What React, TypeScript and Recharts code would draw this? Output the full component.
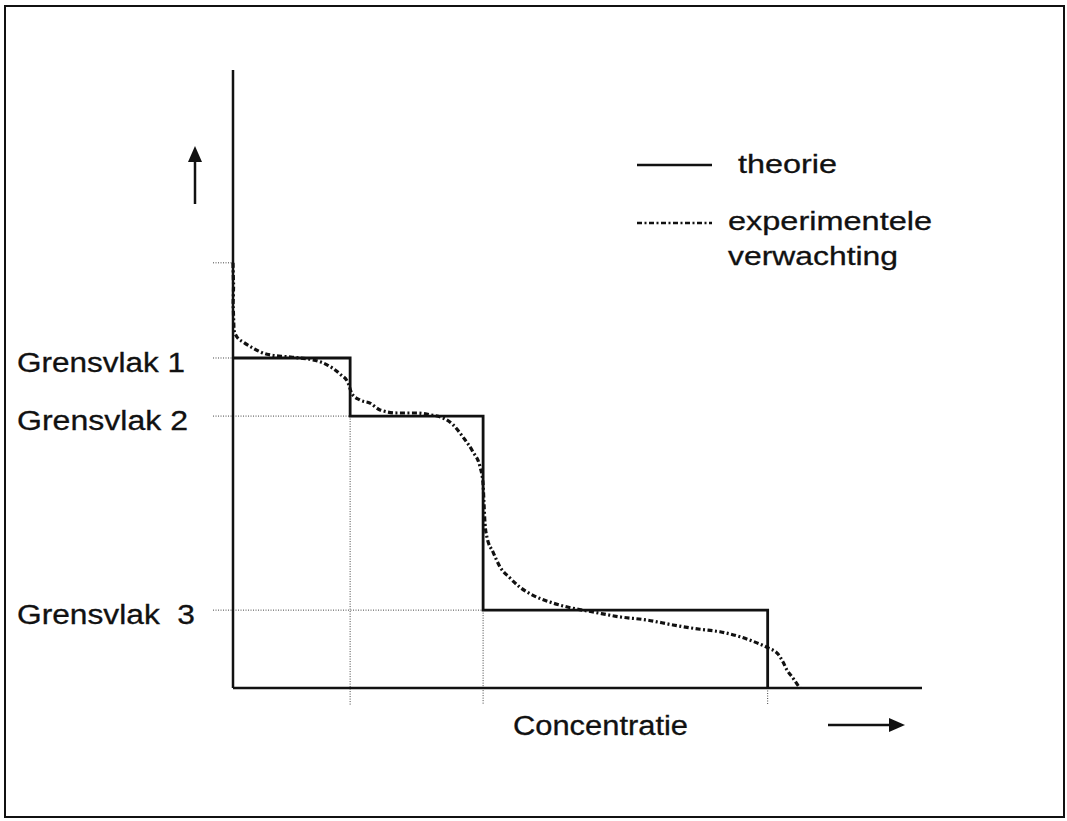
import React from "react";
import {
  ComposedChart,
  Line,
  XAxis,
  YAxis,
  ReferenceLine,
  Legend,
  Label,
  Customized,
} from "recharts";

// Grensvlak step diagram: theory (step) vs experimental expectation (smooth curve)

// interface positions on the concentration axis
const stepX = [17, 36.3, 77.6];
// interface levels (height)
const levels = [53.4, 44.0, 12.6];
const levelLabels = ["Grensvlak 1", "Grensvlak 2", "Grensvlak  3"];
const labelWidths = [168, 171, 178];
const topTick = 68.8;

const theorie = [
  { x: 0, y: 53.4 },
  { x: 17, y: 53.4 },
  { x: 17, y: 44.0 },
  { x: 36.3, y: 44.0 },
  { x: 36.3, y: 12.6 },
  { x: 77.6, y: 12.6 },
  { x: 77.6, y: 0 },
];

const expX = [
  0, 0.1, 0, 0.1, 0.15, 0.58, 1.45, 2.9, 4.93, 7.84, 9.72, 11.61, 13.64, 15.53,
  16.69, 17.27, 18.43, 19.88, 21.34, 23.8, 26.71, 28.59, 30.48, 31.93, 33.38,
  34.83, 35.85, 36.28, 36.43, 36.57, 36.86, 37.74, 38.75, 40.2, 41.65, 43.54,
  46.01, 49.35, 52.25, 56.17, 60.09, 63.86, 67.78, 70.68, 73.58, 76.05, 77.65,
  79.1, 79.83, 80.41, 81.28, 82.15, 82.3,
];
const expY = [
  68.8, 65.2, 62.0, 59.5, 57.9, 56.8, 56.0, 55.0, 54.0, 53.6, 53.4, 53.1, 52.3,
  50.8, 49.4, 47.6, 46.6, 46.1, 45.0, 44.5, 44.5, 44.2, 43.7, 42.6, 40.6, 38.2,
  35.8, 33.2, 29.9, 26.7, 24.4, 22.0, 19.6, 17.8, 16.3, 15.0, 13.9, 12.9, 12.3,
  11.5, 11.0, 10.2, 9.5, 9.1, 8.3, 7.3, 6.5, 5.5, 4.2, 2.9, 1.6, 0.2, 0,
];
const experimenteel = expX.map((x, i) => ({ x, y: expY[i] }));

const FONT = "'Liberation Sans', Arial, sans-serif";
const DOT = "#444";
const EXP_DASH = "5 2.5 2 2.5";
const INK = "#111";

function LevelTick(props: any) {
  const { y, payload } = props;
  const i = levels.indexOf(payload.value);
  if (i < 0) return null;
  return (
    <text
      x={17}
      y={y + 14}
      fontFamily={FONT}
      fontSize={27}
      fill={INK}
      stroke={INK}
      strokeWidth={0.3}
      textLength={labelWidths[i]}
      lengthAdjust="spacingAndGlyphs"
      style={{ whiteSpace: "pre" }}
    >
      {levelLabels[i]}
    </text>
  );
}

function LegendBox() {
  const t = { fontFamily: FONT, fontSize: 26, fill: INK, stroke: INK, strokeWidth: 0.3 };
  return (
    <svg width={340} height={140}>
      <line x1={7} y1={25} x2={82} y2={25} stroke={INK} strokeWidth={2.5} />
      <text x={108} y={33} {...t} textLength={99} lengthAdjust="spacingAndGlyphs">
        theorie
      </text>
      <line x1={7} y1={83} x2={82} y2={83} stroke={INK} strokeWidth={2.5} strokeDasharray={EXP_DASH} />
      <text x={98} y={90} {...t} textLength={204} lengthAdjust="spacingAndGlyphs">
        experimentele
      </text>
      <text x={98} y={125} {...t} textLength={170} lengthAdjust="spacingAndGlyphs">
        verwachting
      </text>
    </svg>
  );
}

function Arrows() {
  return (
    <g>
      <line x1={195} y1={204} x2={195} y2={158} stroke={INK} strokeWidth={2.5} />
      <polygon points="188,162 202,162 195,146" fill={INK} />
      <line x1={828} y1={725} x2={892} y2={725} stroke={INK} strokeWidth={2.5} />
      <polygon points="889,718 889,732 905,725" fill={INK} />
    </g>
  );
}

export default function App() {
  return (
    <div style={{ position: "absolute", left: 0, top: 0, width: 1067, height: 821, background: "#fff" }}>
      <div
        style={{
          position: "absolute",
          left: 4,
          top: 5,
          width: 1057,
          height: 809,
          border: "2px solid #111",
        }}
      />
      <div style={{ position: "absolute", left: 0, top: 0 }}>
        <ComposedChart
          width={1067}
          height={821}
          margin={{ top: 70, right: 145, left: 213, bottom: 113 }}
        >
          <XAxis
            type="number"
            dataKey="x"
            domain={[0, 100]}
            height={20}
            tick={false}
            tickLine={false}
            axisLine={{ stroke: INK, strokeWidth: 2.5 }}
          >
            <Label
              content={() => (
                <text x={513} y={735} fontFamily={FONT} fontSize={27} fill={INK} stroke={INK} strokeWidth={0.3} textLength={175} lengthAdjust="spacingAndGlyphs">
                  Concentratie
                </text>
              )}
            />
          </XAxis>
          <YAxis
            type="number"
            domain={[0, 100]}
            width={20}
            ticks={levels}
            tick={<LevelTick />}
            tickLine={false}
            axisLine={{ stroke: INK, strokeWidth: 2.5 }}
          />

          {/* dotted helper lines */}
          <ReferenceLine segment={[{ x: -2.9, y: topTick }, { x: 0, y: topTick }]} stroke={DOT} strokeDasharray="1 1.5" ifOverflow="visible" />
          <ReferenceLine segment={[{ x: -2.9, y: levels[0] }, { x: 0, y: levels[0] }]} stroke={DOT} strokeDasharray="1 1.5" ifOverflow="visible" />
          <ReferenceLine segment={[{ x: -2.9, y: levels[1] }, { x: stepX[0], y: levels[1] }]} stroke={DOT} strokeDasharray="1 1.5" ifOverflow="visible" />
          <ReferenceLine segment={[{ x: -2.9, y: levels[2] }, { x: stepX[1], y: levels[2] }]} stroke={DOT} strokeDasharray="1 1.5" ifOverflow="visible" />
          <ReferenceLine segment={[{ x: stepX[0], y: levels[1] }, { x: stepX[0], y: -2.75 }]} stroke={DOT} strokeDasharray="1 1.5" ifOverflow="visible" />
          <ReferenceLine segment={[{ x: stepX[1], y: levels[2] }, { x: stepX[1], y: -2.75 }]} stroke={DOT} strokeDasharray="1 1.5" ifOverflow="visible" />
          <ReferenceLine segment={[{ x: stepX[2], y: 0 }, { x: stepX[2], y: -2.75 }]} stroke={DOT} strokeDasharray="1 1.5" ifOverflow="visible" />

          <Line
            data={theorie}
            dataKey="y"
            type="linear"
            stroke={INK}
            strokeWidth={2.8}
            dot={false}
            isAnimationActive={false}
          />
          <Line
            data={experimenteel}
            dataKey="y"
            type="monotone"
            stroke={INK}
            strokeWidth={3.2}
            strokeDasharray={EXP_DASH}
            dot={false}
            isAnimationActive={false}
          />

          <Legend
            layout="horizontal"
            align="center"
            verticalAlign="middle"
            content={() => <LegendBox />}
            wrapperStyle={{ position: "absolute", left: 630, top: 140, width: 340, height: 140 }}
          />
          <Customized component={<Arrows />} />
        </ComposedChart>
      </div>
    </div>
  );
}
